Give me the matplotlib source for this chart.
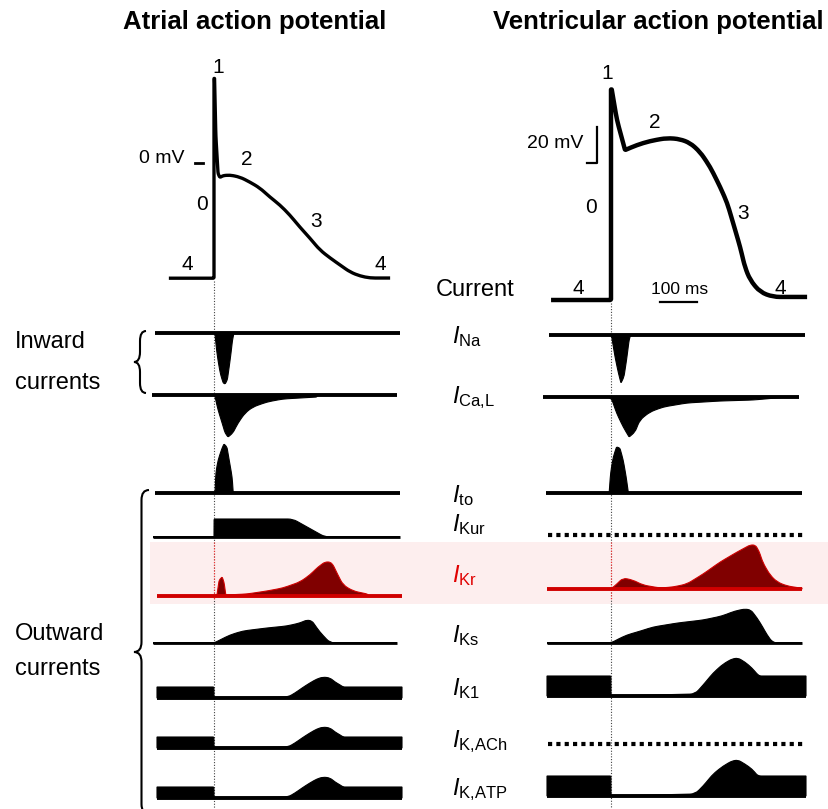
import numpy as np
import matplotlib as mpl
import matplotlib.pyplot as plt
from matplotlib.path import Path
from matplotlib.patches import PathPatch, Rectangle

mpl.rcParams['font.family'] = ['Liberation Sans', 'DejaVu Sans']
mpl.rcParams['mathtext.fontset'] = 'custom'
mpl.rcParams['mathtext.rm'] = 'Liberation Sans'
mpl.rcParams['mathtext.it'] = 'Liberation Sans:italic'

# ---- action potentials: time (ms from upstroke), voltage (mV)
atrial_t = [-122, 0, 0, 1.5, 5, 11, 16, 25, 43, 70, 97, 124, 151, 178, 205, 232, 259, 286,
            314, 341, 368, 395, 422, 476]
atrial_v = [-64, -64, 47, 47, 15, -6, -8, -7, -6.7, -7.8, -10.6, -13.9, -18.9, -23.3, -28.9,
            -35.6, -41.7, -48.3, -52.8, -56.7, -60.6, -62.8, -63.9, -63.9]
vent_t = [-162, 0, 0, 2, 16, 38, 70, 105, 151, 186, 214, 241, 268, 295, 314, 330, 349, 362,
          376, 403, 438, 530]
vent_v = [-85, -85, 32, 32, 15, -1.7, 1.1, 3.3, 5, 4.4, 2.2, -2.8, -11.1, -22.2, -31.1,
          -42.2, -55.6, -66.7, -73.9, -80.6, -83.3, -83.3]

# ---- ionic currents: time (ms), amplitude (a.u., outward positive)
ina_t = [0, 3, 7, 12, 18, 25, 30, 36, 41, 46, 50, 54]
ina_a = [0, -2, -17, -30, -42, -50, -51, -47, -34, -20, -7, 0]
ina_v_t = [0, 2, 11, 20, 27, 35, 42, 49, 53]
ina_v_a = [0, -2, -22, -38, -48, -42, -25, -5, 0]

ical_t = [0, 3, 11, 22, 30, 38, 51, 65, 84, 105, 143, 186, 232, 278, 280]
ical_a = [0, -2, -15, -28, -38, -42, -38, -28, -18, -12, -7, -4, -3, -2, 0]
ical_v_t = [0, 15, 33, 49, 65, 78, 105, 141, 205, 295, 384, 476]
ical_v_a = [0, -16, -30, -40, -35, -23, -15, -10, -6, -4, -3, 0]

ito_t = [0, 3, 5, 11, 22, 27, 35, 41, 49, 52]
ito_a = [0, 1, 20, 33, 45, 49, 46, 33, 16, 0]
ito_v_t = [-5, -1, 6, 15, 24, 33, 41, 47]
ito_v_a = [0, 20, 36, 46, 45, 33, 16, 0]

ikur_t = [0, 0.3, 213, 300]
ikur_a = [0, 18, 18, 0]

ikr_t = [0, 8, 14, 22, 27, 32, 89, 143, 186, 232, 259, 281, 300, 314, 322, 335, 349, 376, 414, 420]
ikr_a = [0, 1, 16, 19, 14, 1, 2, 5, 8, 14, 21, 29, 34, 34, 31, 21, 11, 5, 2, 0]
ikr_v_t = [0, 16, 32, 59, 86, 132, 168, 205, 249, 295, 341, 376, 390, 400, 411, 430, 449, 476, 511]
ikr_v_a = [0, 5, 11, 9, 4, 1, 2, 5, 15, 27, 37, 44, 44, 38, 26, 14, 7, 3, 1]

iks_t = [0, 16, 43, 78, 143, 197, 232, 251, 265, 286, 314]
iks_a = [0, 3, 8, 12, 15, 17, 20, 23, 22, 11, 0]
iks_v_t = [0, 20, 43, 80, 114, 180, 249, 300, 335, 362, 378, 395, 410, 422, 438]
iks_v_a = [0, 4, 8, 12, 16, 20, 23, 27, 32, 34, 33, 25, 16, 8, 0]

ik1_t = [-0.3, 0, 200, 219, 238, 259, 278, 295, 314, 327, 341, 349]
ik1_a = [11, 0, 1, 5, 10, 15, 19, 21, 20, 16, 13, 11]
ik1_v_t = [-0.3, 0, 227, 249, 276, 303, 327, 343, 362, 381, 395, 402]
ik1_v_a = [20, 0, 2, 11, 23, 32, 37, 38, 34, 28, 22, 20]
ikatp_v_a = [20, 0, 2, 10, 22, 30, 35, 36, 32, 27, 21, 20]

labels = [r'$I_{\mathrm{Na}}$', r'$I_{\mathrm{Ca{,}L}}$', r'$I_{\mathrm{to}}$', r'$I_{\mathrm{Kur}}$',
          r'$I_{\mathrm{Kr}}$', r'$I_{\mathrm{Ks}}$', r'$I_{\mathrm{K1}}$', r'$I_{\mathrm{K{,}ACh}}$',
          r'$I_{\mathrm{K{,}ATP}}$']
atrial_shapes = [(ina_t, ina_a), (ical_t, ical_a), (ito_t, ito_a), (ikur_t, ikur_a),
                 (ikr_t, ikr_a), (iks_t, iks_a), (ik1_t, ik1_a), (ik1_t, ik1_a), (ik1_t, ik1_a)]
vent_shapes = [(ina_v_t, ina_v_a), (ical_v_t, ical_v_a), (ito_v_t, ito_v_a), None,
               (ikr_v_t, ikr_v_a), (iks_v_t, iks_v_a), (ik1_v_t, ik1_v_a), None,
               (ik1_v_t, ikatp_v_a)]

# ---- layout (pixels)
MS = 0.37   # px per ms
MV = 1.8    # px per mV
X0_A, X0_V = 214, 611
rows_a = [(333, 155, 400), (395, 152, 397), (493, 155, 400), (537, 153, 400), (596, 157, 402),
          (643, 153, 397), (698, 157, 402), (748, 157, 402), (798, 157, 402)]
rows_v = [(335, 549, 805), (397, 543, 799), (493, 546, 802), (535, 548, 805), (589, 547, 802),
          (643, 547, 802), (696, 547, 806), (744, 548, 805), (796, 547, 806)]
label_y = [343, 403, 502, 531, 582, 642, 695, 747, 795]
RED_LINE, RED_FILL = '#d00000', '#800000'


def rounded(xs, ys, R):
    # path through the points, gentle bends softened, sharp corners kept
    pts = np.column_stack([xs, ys]).astype(float)
    keep = [0] + [i for i in range(1, len(pts)) if np.hypot(*(pts[i] - pts[i - 1])) > 1e-6]
    pts = pts[keep]
    verts, codes = [pts[0]], [Path.MOVETO]
    for i in range(1, len(pts) - 1):
        p, a, b = pts[i], pts[i - 1], pts[i + 1]
        da, db = np.hypot(*(a - p)), np.hypot(*(b - p))
        cosang = np.dot(p - a, b - p) / (da * db)
        r = min(R if cosang > 0.3 else 1.0, da / 2, db / 2)
        verts += [p + (a - p) / da * r, p, p + (b - p) / db * r]
        codes += [Path.LINETO, Path.CURVE3, Path.CURVE3]
    verts.append(pts[-1])
    codes.append(Path.LINETO)
    return verts, codes


fig = plt.figure(figsize=(8.29, 8.09), dpi=100)
ax = fig.add_axes([0, 0, 1, 1])
ax.set_xlim(0, 829)
ax.set_ylim(809, 0)
ax.axis('off')

# highlight band for IKr
ax.add_patch(Rectangle((150, 542), 679, 62, color='#fdeeee', lw=0, zorder=0))

# dotted reference lines at the upstroke
for x0, ytop in [(X0_A, 281), (X0_V, 303)]:
    ax.plot([x0, x0], [ytop, 809], color='#444444', lw=0.8, ls=(0, (1, 1.5)), zorder=1)
    ax.plot([x0, x0], [542, 600], color='#ff3030', lw=0.8, ls=(0, (1, 1.5)), zorder=1.5)

# action potentials
for x0, y0, t, v, lw in [(X0_A, 163, atrial_t, atrial_v, 2.4), (X0_V, 147, vent_t, vent_v, 3.2)]:
    verts, codes = rounded(x0 + np.array(t) * MS, y0 - np.array(v) * MV, 7)
    ax.add_patch(PathPatch(Path(verts, codes), fill=False, lw=lw, color='k',
                           joinstyle='round', capstyle='butt'))

# currents
for x0, rows, shapes in [(X0_A, rows_a, atrial_shapes), (X0_V, rows_v, vent_shapes)]:
    for i, ((y0, xa, xb), shp) in enumerate(zip(rows, shapes)):
        red = (i == 4)
        lc = RED_LINE if red else 'k'
        fc = RED_FILL if red else 'k'
        if shp is None:
            ax.plot([xa, xb], [y0, y0], color='k', lw=3, ls=(0, (1, 1)), dash_capstyle='butt')
            continue
        t, a = np.asarray(shp[0], float), np.asarray(shp[1], float)
        xs = np.concatenate([[xa], x0 + t * MS, [xb]])
        ys = y0 - np.concatenate([[a[0]], a, [a[-1]]])
        verts, codes = rounded(xs, ys, 5)
        verts += [(xb, y0), (xa, y0), (xa, y0)]
        codes += [Path.LINETO, Path.LINETO, Path.CLOSEPOLY]
        ax.add_patch(PathPatch(Path(verts, codes), facecolor=fc, edgecolor=lc, lw=0.8, zorder=2))
        lw = 2.0 if i in (3, 5) else 2.8
        ax.plot([xa, xb], [y0, y0], color=lc, lw=lw, solid_capstyle='butt', zorder=3)

for i, (lab, yl) in enumerate(zip(labels, label_y)):
    ax.text(452, yl, lab, fontsize=17, ha='left', va='baseline',
            color='#e00000' if i == 4 else 'k')

# titles
ax.text(255, 22, 'Atrial action potential', fontsize=18.5, fontweight='bold', ha='center', va='center')
ax.text(658, 22, 'Ventricular action potential', fontsize=18.5, fontweight='bold', ha='center', va='center')

# AP phase numbers
for s, x, y in [('1', 218, 67), ('2', 247, 159), ('0', 202, 204), ('3', 316, 221), ('4', 187, 264),
                ('4', 380, 264), ('1', 607, 73), ('2', 655, 122), ('0', 591, 207), ('3', 743, 213),
                ('4', 578, 289), ('4', 780, 289)]:
    ax.text(x, y, s, fontsize=15, ha='center', va='center')

# scale marks
ax.text(185, 158, '0 mV', fontsize=14, ha='right', va='center')
ax.plot([195, 203], [163, 163], color='k', lw=2)
ax.text(583, 143, '20 mV', fontsize=14, ha='right', va='center')
ax.plot([587, 597, 597], [163, 163, 127], color='k', lw=1.6)
ax.text(680, 290, '100 ms', fontsize=12.5, ha='center', va='center')
ax.plot([660, 697], [302, 302], color='k', lw=1.6)
ax.text(475, 290, 'Current', fontsize=17, ha='center', va='center')


# braces and group labels
def brace(x_tip, x_arm, y_top, y_bot, lw=1.5):
    ym = (y_top + y_bot) / 2
    xm = (x_tip + x_arm) / 2
    r = min(10, (y_bot - y_top) / 6)
    verts = [(x_arm, y_top), (xm, y_top), (xm, y_top + r), (xm, ym - r), (xm, ym), (x_tip, ym),
             (xm, ym), (xm, ym + r), (xm, y_bot - r), (xm, y_bot), (x_arm, y_bot)]
    codes = [Path.MOVETO, Path.CURVE3, Path.CURVE3, Path.LINETO, Path.CURVE3, Path.CURVE3,
             Path.CURVE3, Path.CURVE3, Path.LINETO, Path.CURVE3, Path.CURVE3]
    ax.add_patch(PathPatch(Path(verts, codes), fill=False, lw=lw, color='k'))


brace(134, 146, 331, 393)
brace(134, 149, 490, 814)
ax.text(15, 342, 'Inward', fontsize=17, ha='left', va='center')
ax.text(15, 383, 'currents', fontsize=17, ha='left', va='center')
ax.text(15, 634, 'Outward', fontsize=17, ha='left', va='center')
ax.text(15, 669, 'currents', fontsize=17, ha='left', va='center')

fig.savefig('out.png', dpi=100)
